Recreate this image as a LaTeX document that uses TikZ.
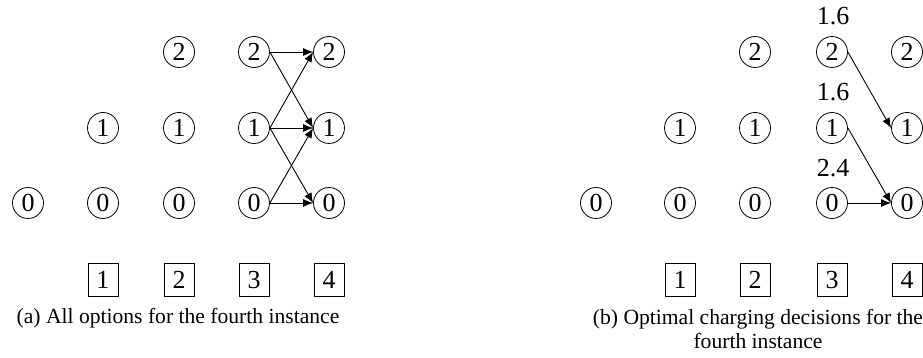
\documentclass[tikz,border=0pt]{standalone}
\usepackage{fontspec}
\setmainfont{Liberation Serif}
\usetikzlibrary{arrows.meta}
\begin{document}
\begin{tikzpicture}[x=0.5pt,y=-0.5pt,
  font=\fontsize{13pt}{15pt}\selectfont,
  state/.style={draw,circle,inner sep=0pt,minimum size=15.5pt},
  slot/.style={draw,rectangle,inner sep=0pt,minimum width=15pt,minimum height=16.5pt},
  move/.style={-{Latex[length=5pt,width=4pt]},line width=0.45pt},
  cost/.style={inner sep=0pt},
  capt/.style={align=center,inner sep=0pt,font=\fontsize{10.8pt}{11.6pt}\selectfont}]
\useasboundingbox (0,0) rectangle (923,358);

% (a) every transition from slot 3 to slot 4
\node[state] (a00) at (28,203) {0};
\node[state] (a11) at (103,128) {1};
\node[state] (a10) at (103,203) {0};
\node[state] (a22) at (179,52) {2};
\node[state] (a21) at (179,128) {1};
\node[state] (a20) at (179,203) {0};
\node[state] (a32) at (254,52) {2};
\node[state] (a31) at (254,128) {1};
\node[state] (a30) at (254,203) {0};
\node[state] (a42) at (329,52) {2};
\node[state] (a41) at (329,128) {1};
\node[state] (a40) at (329,203) {0};
\node[slot] (as1) at (103,280) {1};
\node[slot] (as2) at (179,280) {2};
\node[slot] (as3) at (254,280) {3};
\node[slot] (as4) at (329,280) {4};
\draw[move] (a32.east) -- (a42.west);
\draw[move] (a32.east) -- (a41.west);
\draw[move] (a31.east) -- (a42.west);
\draw[move] (a31.east) -- (a41.west);
\draw[move] (a31.east) -- (a40.west);
\draw[move] (a30.east) -- (a41.west);
\draw[move] (a30.east) -- (a40.west);
\node[capt] (capa) at (178,318) {(a) All options for the fourth instance};

% (b) optimal choices with their costs
\node[state] (b00) at (596,203) {0};
\node[state] (b11) at (680,128) {1};
\node[state] (b10) at (680,203) {0};
\node[state] (b22) at (755,52) {2};
\node[state] (b21) at (755,128) {1};
\node[state] (b20) at (755,203) {0};
\node[state] (b32) at (832,52) {2};
\node[state] (b31) at (832,128) {1};
\node[state] (b30) at (832,203) {0};
\node[state] (b42) at (907,52) {2};
\node[state] (b41) at (907,128) {1};
\node[state] (b40) at (907,203) {0};
\node[slot] (bs1) at (680,280) {1};
\node[slot] (bs2) at (755,280) {2};
\node[slot] (bs3) at (832,280) {3};
\node[slot] (bs4) at (907,280) {4};
\node[cost] (c2) at (833,16) {1.6};
\node[cost] (c1) at (833,92) {1.6};
\node[cost] (c0) at (833,168) {2.4};
\draw[move] (b32.east) -- (b41.west);
\draw[move] (b31.east) -- (b40.west);
\draw[move] (b30.east) -- (b40.west);
\node[capt] (capb) at (758,329) {(b) Optimal charging decisions for the\\fourth instance};
\end{tikzpicture}
\end{document}
